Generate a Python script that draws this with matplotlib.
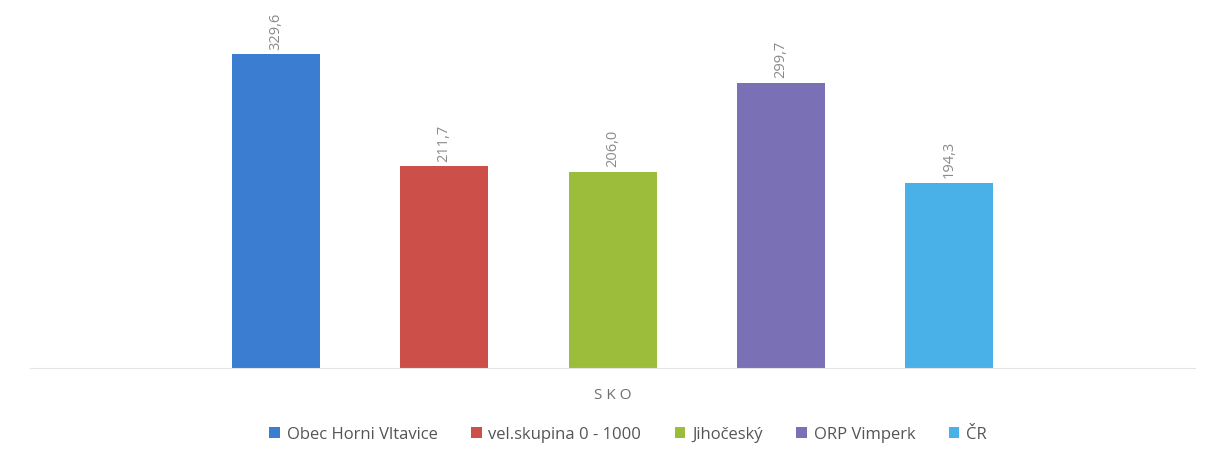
import matplotlib.pyplot as plt
import numpy as np

# data
series = ['Obec Horni Vltavice', 'vel.skupina 0 - 1000', 'Jihočeský', 'ORP Vimperk', 'ČR']
values = [329.6, 211.7, 206.0, 299.7, 194.3]
category = 'SKO'
colors = ['#3B7DD0', '#CC5049', '#9CBD3B', '#7A70B5', '#4AB0E8']

plt.rcParams['font.family'] = ['Open Sans', 'DejaVu Sans']

fig = plt.figure(figsize=(12.07, 4.64), dpi=100)
ax = fig.add_axes([30/1207, 95/464, 1165/1207, 357/464])

# clustered bars inside one category
n = len(series)
width = 88 / 1165
step = 168.5 / 1165
offsets = (np.arange(n) - (n - 1) / 2) * step
for i in range(n):
    ax.bar(0.5 + offsets[i], values[i], width=width, color=colors[i], label=series[i])
    ax.annotate(f'{values[i]:.1f}'.replace('.', ','), (0.5 + offsets[i], values[i]),
                xytext=(0, 4), textcoords='offset points', rotation=90,
                ha='center', va='bottom', fontsize=10.5, color='#8a8a8a')

ax.set_xlim(0, 1)
ax.set_ylim(0, 375)
ax.set_yticks([])
ax.set_xticks([0.5])
ax.set_xticklabels([' '.join(category)], color='#6f6f6f', fontsize=11)
ax.tick_params(axis='x', length=0, pad=14)
for s in ['top', 'right', 'left']:
    ax.spines[s].set_visible(False)
ax.spines['bottom'].set_color('#e4e4e4')

fig.legend(loc='center', bbox_to_anchor=(628/1207, 1 - 435/464), ncol=n, frameon=False,
           fontsize=12, handlelength=0.65, handleheight=0.65, handletextpad=0.4,
           columnspacing=2.0, labelcolor='#555555')

plt.savefig('out.png', dpi=100)
